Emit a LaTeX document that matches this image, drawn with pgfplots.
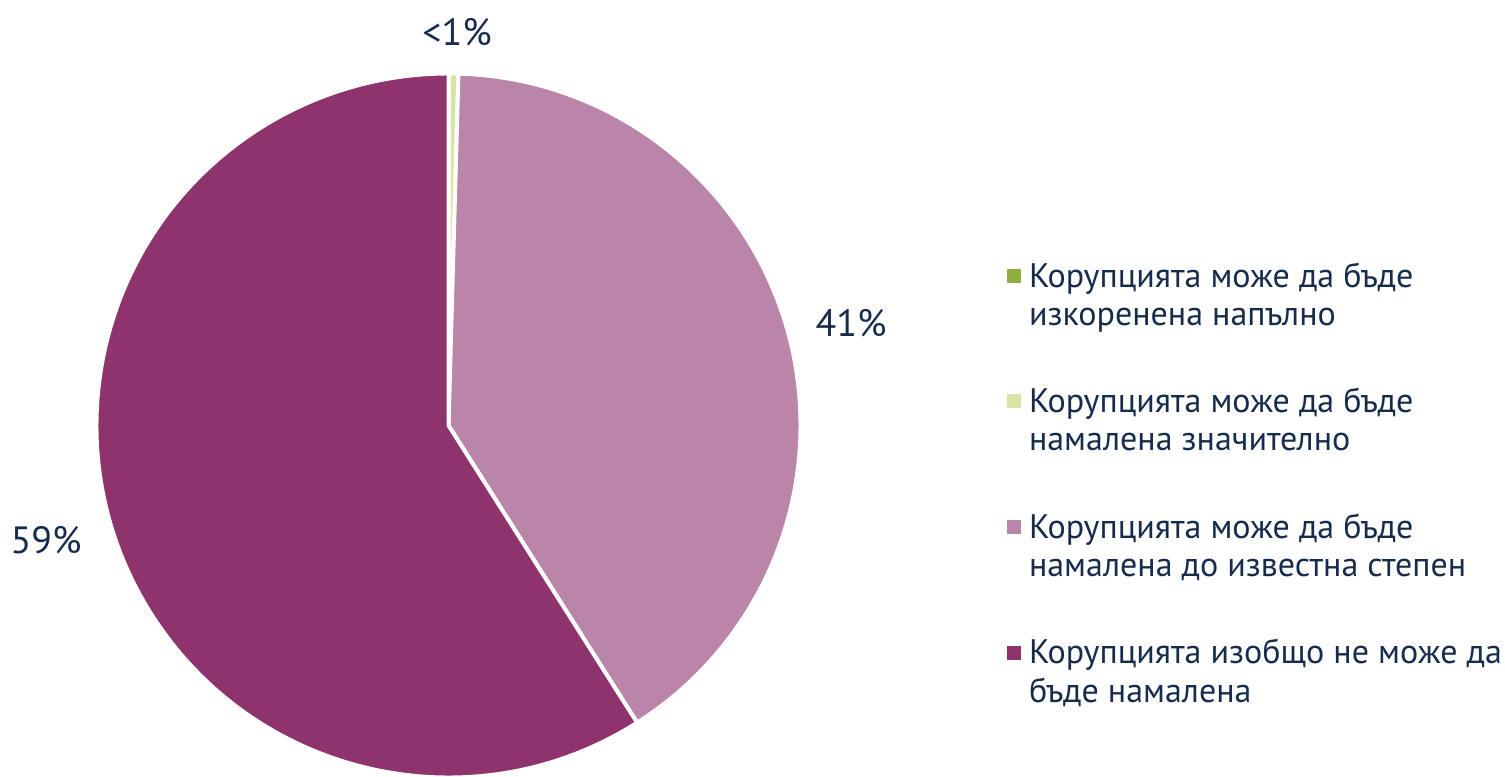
\documentclass[border=0pt]{standalone}
\usepackage{pgfplots}
\pgfplotsset{compat=1.18}
\usepackage{fontspec}
\setmainfont{PT Sans}
\definecolor{cA}{HTML}{8FAE3C}
\definecolor{cB}{HTML}{D8E4A6}
\definecolor{cC}{HTML}{BB84A9}
\definecolor{cD}{HTML}{8F336D}
\definecolor{txt}{HTML}{172B4D}
% shares (%), clockwise from the top
\def\vA{0.0}
\def\vB{0.45}
\def\vC{40.55}
\def\vD{59.0}
\begin{document}
\begin{tikzpicture}[x=0.5bp,y=0.5bp]
\useasboundingbox (0,0) rectangle (1505,776);
\pgfmathsetmacro\aB{3.6*\vA}
\pgfmathsetmacro\aC{\aB+3.6*\vB}
\pgfmathsetmacro\aD{\aC+3.6*\vC}
\pgfmathsetmacro\aE{\aD+3.6*\vD}
\begin{axis}[at={(224.25bp,175.25bp)}, anchor=center, scale only axis,
  width=352bp, height=352bp, xmin=-1, xmax=1, ymin=-1, ymax=1,
  hide axis, clip=false, legend cell align=left,
  legend style={at={(1.2930,0.7322)}, anchor=north west, draw=none, fill=none,
    inner sep=0pt, row sep=30bp, column sep=0bp,
    nodes={align=left, inner xsep=4bp, inner ysep=0pt, text=txt,
      font=\fontsize{17bp}{19bp}\selectfont}}]
\addlegendimage{legend image code/.code={\fill[cA] (0bp,6.5bp) rectangle (6.5bp,13bp);}}
\addlegendentry{Корупцията може да бъде\\изкоренена напълно}
\addlegendimage{legend image code/.code={\fill[cB] (0bp,6.5bp) rectangle (6.5bp,13bp);}}
\addlegendentry{Корупцията може да бъде\\намалена значително}
\addlegendimage{legend image code/.code={\fill[cC] (0bp,6.5bp) rectangle (6.5bp,13bp);}}
\addlegendentry{Корупцията може да бъде\\намалена до известна степен}
\addlegendimage{legend image code/.code={\fill[cD] (0bp,6.5bp) rectangle (6.5bp,13bp);}}
\addlegendentry{Корупцията изобщо не може да\\бъде намалена}
\fill[cB, draw=white, line width=2bp] (axis cs:0,0) -- ++(90-\aB:176bp) arc[start angle=90-\aB, end angle=90-\aC, radius=176bp] -- cycle;
\fill[cC, draw=white, line width=2bp] (axis cs:0,0) -- ++(90-\aC:176bp) arc[start angle=90-\aC, end angle=90-\aD, radius=176bp] -- cycle;
\fill[cD, draw=white, line width=2bp] (axis cs:0,0) -- ++(90-\aD:176bp) arc[start angle=90-\aD, end angle=90-\aE, radius=176bp] -- cycle;
\end{axis}
\begin{scope}[every node/.style={text=txt, font=\fontsize{19bp}{22bp}\selectfont, inner sep=0pt}]
\node at (457,744) {<1\%};
\node at (851,453) {41\%};
\node at (46,236) {59\%};
\end{scope}
\end{tikzpicture}
\end{document}
